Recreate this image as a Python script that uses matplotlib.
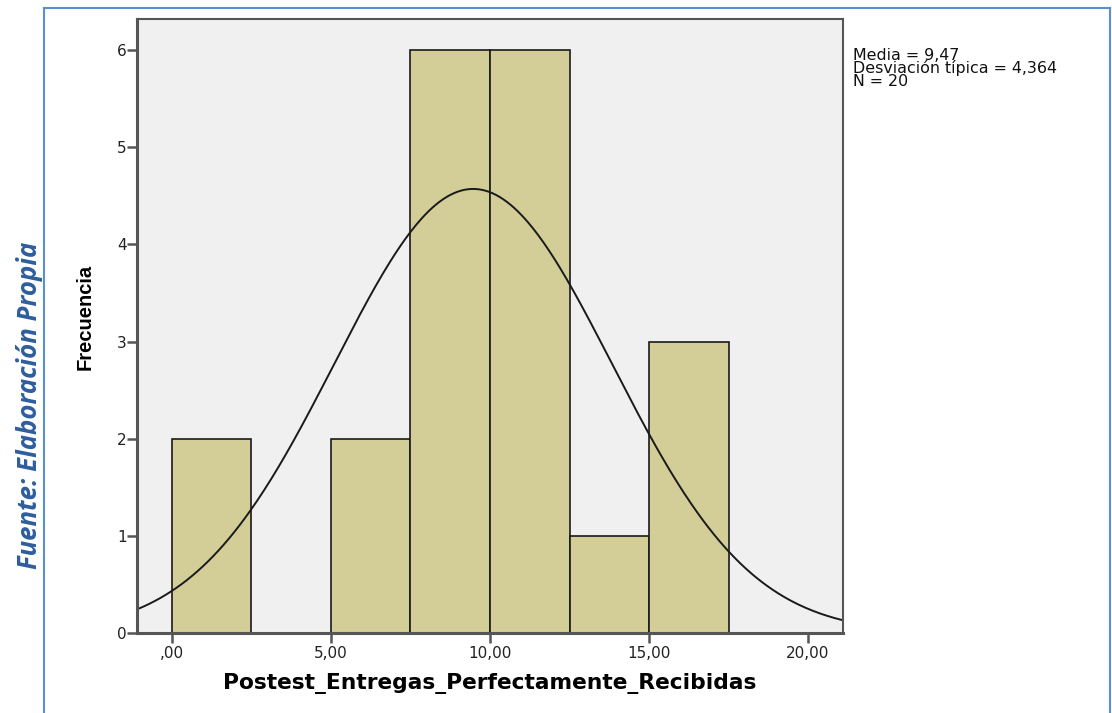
import numpy as np
import matplotlib.pyplot as plt

# Histogram data (bin edges and counts)
bin_edges = [0.0, 2.5, 5.0, 7.5, 10.0, 12.5, 15.0, 17.5]
counts = [2, 0, 2, 6, 6, 1, 3]
media = 9.47
desv = 4.364
n = 20
xticks = [0, 5, 10, 15, 20]
xtick_labels = [",00", "5,00", "10,00", "15,00", "20,00"]
yticks = [0, 1, 2, 3, 4, 5, 6]

fig = plt.figure(figsize=(11.12, 7.13), dpi=100)

# blue frame around the figure (open at the bottom)
blue = "#5b8fd0"
fig.add_artist(plt.Line2D([44/1112, 44/1112], [0, 1 - 8/713], color=blue, lw=1.5))
fig.add_artist(plt.Line2D([44/1112, 1110/1112], [1 - 8/713, 1 - 8/713], color=blue, lw=1.5))
fig.add_artist(plt.Line2D([1110/1112, 1110/1112], [0, 1 - 8/713], color=blue, lw=1.5))

fig.text(30/1112, 1 - 405/713, "Fuente: Elaboración Propia", rotation=90, ha="center", va="center",
         fontsize=18.5, fontweight="bold", fontstyle="italic", color="#2e5d9e", family="Open Sans")

ax = fig.add_axes([137/1112, 80/713, 706/1112, 614/713])
ax.set_facecolor("#f0f0f0")

widths = np.diff(bin_edges)
ax.bar(bin_edges[:-1], counts, width=widths, align="edge", color="#d3ce97",
       edgecolor="#1a1a1a", linewidth=1.2)

# normal curve scaled to the histogram
xs = np.linspace(-1.1, 21.1, 400)
curve = n * widths[0] * np.exp(-0.5 * ((xs - media) / desv) ** 2) / (desv * np.sqrt(2 * np.pi))
ax.plot(xs, curve, color="#1a1a1a", lw=1.4)

ax.set_xlim(-1.1, 21.1)
ax.set_ylim(0, 6.32)
ax.set_xticks(xticks)
ax.set_xticklabels(xtick_labels)
ax.set_yticks(yticks)
ax.tick_params(axis="both", labelsize=11, colors="#555555", labelcolor="#222222", length=7, width=1.8)
ax.tick_params(axis="y", pad=0.5)
ax.tick_params(axis="x", pad=2)
for s in ax.spines.values():
    s.set_color("#555555")
    s.set_linewidth(1.5)
ax.spines["left"].set_linewidth(2.2)
ax.spines["bottom"].set_linewidth(2.2)

ax.set_ylabel("Frecuencia", fontsize=14.5, fontweight="bold",
              family=["Liberation Sans Narrow", "Liberation Sans"])
ax.yaxis.set_label_coords(-0.06, 0.514)
ax.set_xlabel("Postest_Entregas_Perfectamente_Recibidas", fontsize=15.7, fontweight="bold",
              family="DejaVu Sans", labelpad=9)

stats = (f"Media = {media:.2f}".replace(".", ",") + "\n"
         + f"Desviación típica = {desv:.3f}".replace(".", ",") + "\n" + f"N = {n}")
fig.text(853/1112, 1 - 48/713, stats, ha="left", va="top", fontsize=11.4,
         linespacing=0.78, color="#111111")

fig.savefig("out.png", dpi=100)
